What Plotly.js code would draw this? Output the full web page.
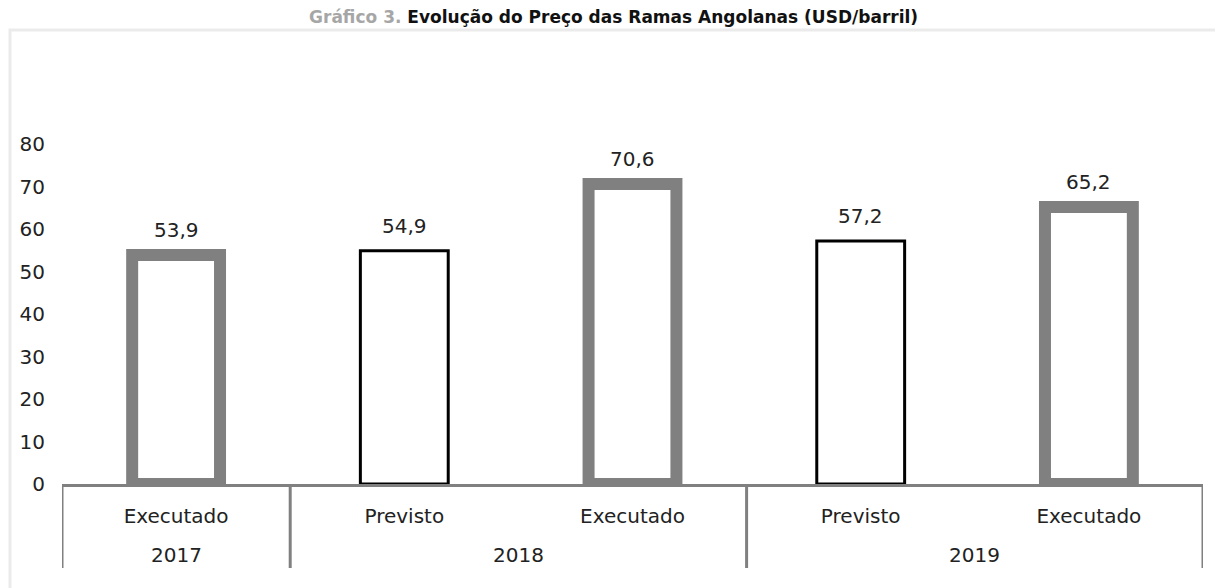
<!DOCTYPE html>
<html>
<head>
<meta charset="utf-8">
<script src="https://cdn.plot.ly/plotly-3.0.1.min.js"></script>
<style>html,body{margin:0;padding:0;background:#fff;}#chart{width:1215px;height:588px;}</style>
</head>
<body>
<div id="chart"></div>
<script>
var years = ["2017", "2018", "2018", "2019", "2019"];
var kinds = ["Executado", "Previsto", "Executado", "Previsto", "Executado"];
var values = [53.9, 54.9, 70.6, 57.2, 65.2];
var yTicks = [0, 10, 20, 30, 40, 50, 60, 70, 80];

var idx = kinds.map(function (k, i) { return i; });
var fmt = function (v) { return v.toFixed(1).replace(".", ","); };

var lineColors = kinds.map(function (k) { return k === "Executado" ? "#808080" : "#000000"; });
var lineWidths = kinds.map(function (k) { return k === "Executado" ? 12 : 3; });

var bars = {
  type: "bar",
  x: idx,
  y: values,
  width: 0.385,
  marker: { color: "rgba(255,255,255,1)", line: { color: lineColors, width: lineWidths } },
  hoverinfo: "skip",
  cliponaxis: false
};

// group years: centers and boundaries
var groups = [];
years.forEach(function (y, i) {
  var g = groups.length ? groups[groups.length - 1] : null;
  if (g && g.year === y) { g.end = i; } else { groups.push({ year: y, start: i, end: i }); }
});

var annotations = values.map(function (v, i) {
  return {
    x: idx[i], y: v, xref: "x", yref: "y", text: fmt(v), showarrow: false,
    yanchor: "middle", yshift: 25,
    font: { family: "DejaVu Sans", size: 20, color: "#222" }
  };
});
groups.forEach(function (g) {
  annotations.push({
    x: (g.start + g.end) / 2, y: (484 - 555) / 340, xref: "x", yref: "paper",
    text: g.year, showarrow: false, yanchor: "middle",
    font: { family: "DejaVu Sans", size: 20, color: "#222" }
  });
});

var shapes = [{
  type: "rect", xref: "paper", yref: "paper",
  x0: (10 - 62) / 1141, x1: (1240 - 62) / 1141,
  y0: (484 - 620) / 340, y1: (484 - 30) / 340,
  line: { color: "#ebebeb", width: 3 }, fillcolor: "rgba(0,0,0,0)", layer: "below"
}];
var bounds = [groups[0].start - 0.5].concat(groups.map(function (g) { return g.end + 0.5; }));
bounds.forEach(function (b) {
  shapes.push({
    type: "line", xref: "x", yref: "paper",
    x0: b, x1: b, y0: 0, y1: (484 - 568) / 340,
    line: { color: "#808080", width: 3 }
  });
});

var layout = {
  width: 1215, height: 588,
  margin: { l: 62, r: 12, t: 144, b: 104 },
  paper_bgcolor: "#fff", plot_bgcolor: "#fff",
  showlegend: false,
  font: { family: "DejaVu Sans", size: 20, color: "#222" },
  title: {
    text: '<span style="color:#a6a6a6">Gráfico 3.</span> Evolução do Preço das Ramas Angolanas (USD/barril)',
    font: { family: "DejaVu Sans", size: 17, color: "#111", weight: "bold" },
    x: 0.505, xanchor: "center", y: 1 - 17 / 588, yanchor: "middle"
  },
  xaxis: {
    range: [-0.5, values.length - 0.5],
    tickvals: idx, ticktext: kinds,
    showline: true, linecolor: "#808080", linewidth: 3,
    showgrid: false, zeroline: false, ticks: "",
    ticklabelstandoff: 12,
    tickfont: { family: "DejaVu Sans", size: 20, color: "#222" }
  },
  yaxis: {
    range: [0, 80], tickvals: yTicks, ticktext: yTicks.map(String),
    showgrid: false, zeroline: false, showline: false, ticks: "",
    ticklabelstandoff: 16,
    tickfont: { family: "DejaVu Sans", size: 20, color: "#222" }
  },
  annotations: annotations,
  shapes: shapes
};

Plotly.newPlot("chart", [bars], layout, { displayModeBar: false, staticPlot: true });
</script>
</body>
</html>
